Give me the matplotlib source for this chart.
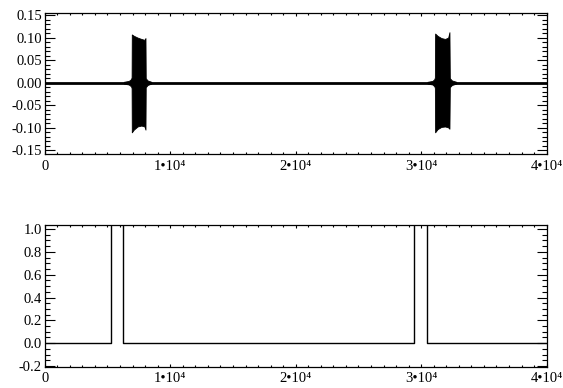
import matplotlib
matplotlib.use("Agg")
import matplotlib.pyplot as plt
from matplotlib.ticker import MultipleLocator, FixedLocator, FixedFormatter

plt.rcParams['font.family'] = ['Liberation Serif', 'DejaVu Serif']

# ---- data ----
# top panel: oscillation envelope of the two bursts (x in samples)
burst1_x     = [6300, 6700, 6880, 6925, 6940, 7100, 7400, 7700, 7950, 8030, 8050, 8200, 8500]
burst1_upper = [0.002, 0.004, 0.008, 0.012, 0.107, 0.104, 0.100, 0.097, 0.095, 0.099, 0.010, 0.005, 0.002]
burst1_lower = [-0.002, -0.004, -0.008, -0.012, -0.110, -0.104, -0.097, -0.095, -0.097, -0.104, -0.010, -0.005, -0.002]

burst2_x     = [30500, 30900, 31050, 31090, 31110, 31300, 31600, 31900, 32150, 32250, 32280, 32450, 32800]
burst2_upper = [0.002, 0.004, 0.008, 0.012, 0.109, 0.104, 0.099, 0.097, 0.100, 0.112, 0.010, 0.005, 0.002]
burst2_lower = [-0.002, -0.004, -0.008, -0.012, -0.110, -0.103, -0.098, -0.097, -0.099, -0.102, -0.010, -0.005, -0.002]

baseline_x = [0, 40000]
baseline_y = [0.0, 0.0]

# bottom panel: gate signal
gate_x = [0, 5260, 5260, 6265, 6265, 29450, 29450, 30460, 30460, 40000]
gate_y = [0.0, 0.0, 1.2, 1.2, 0.0, 0.0, 1.2, 1.2, 0.0, 0.0]

xticks = [0, 10000, 20000, 30000, 40000]
xticklabels = ['0', '1•10⁴', '2•10⁴', '3•10⁴', '4•10⁴']
top_yticks = [-0.15, -0.10, -0.05, 0.00, 0.05, 0.10, 0.15]
top_yticklabels = ['-0.15', '-0.10', '-0.05', '0.00', '0.05', '0.10', '0.15']
bot_yticks = [-0.2, 0.0, 0.2, 0.4, 0.6, 0.8, 1.0]
bot_yticklabels = ['-0.2', '0.0', '0.2', '0.4', '0.6', '0.8', '1.0']

W, H = 563, 388
fig = plt.figure(figsize=(W/100, H/100), dpi=100)

def style(ax, yminor):
    ax.set_xlim(0, 40000)
    ax.xaxis.set_major_locator(FixedLocator(xticks))
    ax.xaxis.set_major_formatter(FixedFormatter(xticklabels))
    ax.xaxis.set_minor_locator(MultipleLocator(1000))
    ax.yaxis.set_minor_locator(MultipleLocator(yminor))
    ax.tick_params(which='both', direction='in', top=True, right=True, colors='black',
                   labelsize=10.5, width=0.8)
    ax.tick_params(axis='y', which='major', length=7.2, pad=2)
    ax.tick_params(axis='y', which='minor', length=3.6)
    ax.tick_params(axis='x', which='major', length=2.2, pad=4)
    ax.tick_params(axis='x', which='minor', length=1.2)
    for s in ax.spines.values():
        s.set_linewidth(0.9)

# top panel
ax1 = fig.add_axes([44.7/W, 1-154/H, 502/W, 141/H])
ax1.plot(baseline_x, baseline_y, color='black', lw=2.0)
ax1.fill_between(burst1_x, burst1_lower, burst1_upper, color='black', lw=0.6)
ax1.fill_between(burst2_x, burst2_lower, burst2_upper, color='black', lw=0.6)
ax1.set_ylim(-0.158, 0.1545)
ax1.yaxis.set_major_locator(FixedLocator(top_yticks))
ax1.yaxis.set_major_formatter(FixedFormatter(top_yticklabels))
style(ax1, 0.01)

# bottom panel
ax2 = fig.add_axes([44.7/W, 1-366.7/H, 502/W, 141.7/H])
ax2.plot(gate_x, gate_y, color='black', lw=1.0)
ax2.set_ylim(-0.206, 1.035)
ax2.yaxis.set_major_locator(FixedLocator(bot_yticks))
ax2.yaxis.set_major_formatter(FixedFormatter(bot_yticklabels))
style(ax2, 0.05)

fig.savefig('out.png', dpi=100)
